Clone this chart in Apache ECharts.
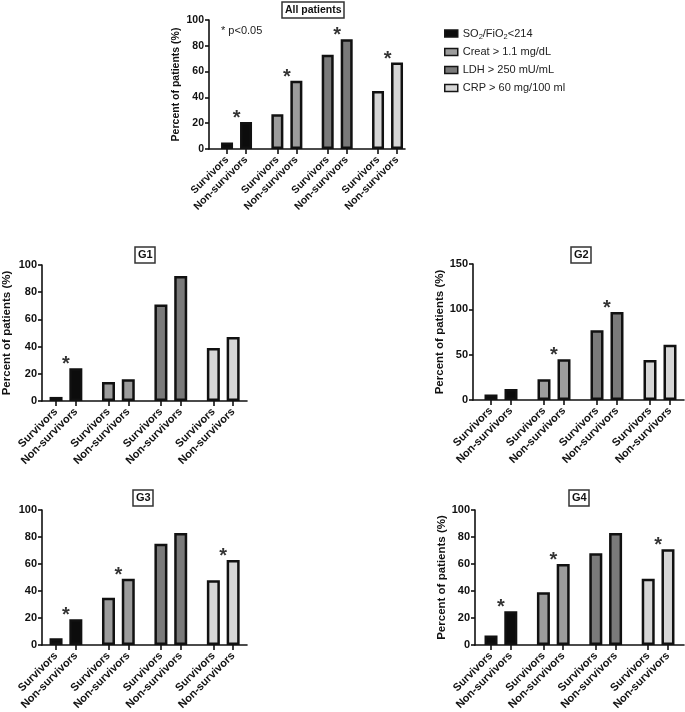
<!DOCTYPE html>
<html><head><meta charset="utf-8">
<script src="https://cdn.jsdelivr.net/npm/echarts@6/dist/echarts.min.js"></script>
<style>html,body{margin:0;padding:0;background:#fff}#c{width:685px;height:712px}</style>
</head><body><div id="c"></div>
<script>
// ---------------- data ----------------
const parameters = ['SO2/FiO2<214', 'Creat > 1.1 mg/dL', 'LDH > 250 mU/mL', 'CRP > 60 mg/100 ml'];
const outcomes = ['Survivors', 'Non-survivors'];
const panelTitles = ['All patients', 'G1', 'G2', 'G3', 'G4'];
const yAxisTitle = 'Percent of patients (%)';
const noteText = '* p<0.05';
const yMax = [100, 100, 150, 100, 100];
const yStep = [20, 20, 50, 20, 20];

const allSurvivors    = [5, 27, 73, 45];
const allNonSurvivors = [21, 53, 85, 67];
const allSignificant  = [1, 1, 1, 1];

const g1Survivors     = [3, 14, 71, 39];
const g1NonSurvivors  = [24, 16, 92, 47];
const g1Significant   = [1, 0, 0, 0];

const g2Survivors     = [6, 23, 77, 44];
const g2NonSurvivors  = [12, 45, 97, 61];
const g2Significant   = [0, 1, 1, 0];

const g3Survivors     = [5, 35, 75, 48];
const g3NonSurvivors  = [19, 49, 83, 63];
const g3Significant   = [1, 1, 0, 1];

const g4Survivors     = [7, 39, 68, 49];
const g4NonSurvivors  = [25, 60, 83, 71];
const g4Significant   = [1, 1, 0, 1];

const survivorsByPanel = [allSurvivors, g1Survivors, g2Survivors, g3Survivors, g4Survivors];
const nonSurvivorsByPanel = [allNonSurvivors, g1NonSurvivors, g2NonSurvivors, g3NonSurvivors, g4NonSurvivors];
const significantByPanel = [allSignificant, g1Significant, g2Significant, g3Significant, g4Significant];

// ---------------- layout / style ----------------
const fills = ['#0c0c0c', '#9c9c9c', '#7a7a7a', '#d6d6d6'];
const STEP = 2.65; // distance between parameter groups (in bar-pair units)
const layouts = [
  {left: 209, top: 20,  width: 196, height: 129, xmin: -0.95, xmax: 9.37, yName: true,  nameGap: 27, fs: 10.5, lfs: 10.5, nfs: 10.5, tl: 282, tt: 2, bw: 12},
  {left: 42,  top: 265, width: 205, height: 136, xmin: -0.71, xmax: 9.65, yName: true,  nameGap: 29, fs: 11, lfs: 11, nfs: 11.5, tl: 135, tt: 247, bw: 13},
  {left: 473, top: 264, width: 211, height: 136, xmin: -0.90, xmax: 9.65, yName: true,  nameGap: 25, fs: 11, lfs: 11, nfs: 11.5, tl: 571, tt: 247, bw: 13},
  {left: 42,  top: 510, width: 205, height: 135, xmin: -0.71, xmax: 9.65, yName: false, nameGap: 29, fs: 11, lfs: 11, nfs: 11.5, tl: 133, tt: 490, bw: 13},
  {left: 475, top: 510, width: 209, height: 135, xmin: -0.81, xmax: 9.76, yName: true,  nameGap: 27, fs: 11, lfs: 11, nfs: 11.5, tl: 569, tt: 490, bw: 13}
];
const FONT = 'Liberation Sans, Arial, sans-serif';

const tickPositions = [];
const tickNames = [];
parameters.forEach((p, g) => outcomes.forEach((o, i) => { tickPositions.push(g * STEP + i); tickNames.push(o); }));
function nameAt(v) {
  let best = 0, bd = Infinity;
  tickPositions.forEach((t, k) => { const d = Math.abs(t - v); if (d < bd) { bd = d; best = k; } });
  return tickNames[best];
}

const grid = [], xAxis = [], yAxis = [], series = [], title = [];
layouts.forEach((L, p) => {
  grid.push({left: L.left, top: L.top, width: L.width, height: L.height, containLabel: false, outerBoundsMode: 'none'});
  xAxis.push({
    type: 'value', gridIndex: p, position: 'bottom', min: L.xmin, max: L.xmax, splitLine: {show: false},
    axisLine: {show: true, onZero: false, lineStyle: {color: '#111', width: 1.6}},
    axisTick: {show: true, customValues: tickPositions, length: 5, lineStyle: {color: '#111', width: 1.6}},
    axisLabel: {show: true, inside: false, customValues: tickPositions, rotate: 45, margin: 9, color: '#111',
      fontFamily: FONT, fontWeight: 'bold', fontSize: L.lfs, formatter: v => nameAt(v), hideOverlap: false}
  });
  yAxis.push({
    type: 'value', gridIndex: p, position: 'left', min: 0, max: yMax[p], interval: yStep[p], splitLine: {show: false},
    name: L.yName ? yAxisTitle : '', nameLocation: 'middle', nameGap: L.nameGap,
    nameTextStyle: {fontFamily: FONT, fontWeight: 'bold', fontSize: L.nfs, color: '#111'},
    axisLine: {show: true, onZero: false, lineStyle: {color: '#111', width: 1.6}},
    axisTick: {show: true, inside: false, length: 4, lineStyle: {color: '#111', width: 1.6}},
    axisLabel: {show: true, inside: false, color: '#111', fontFamily: FONT, fontWeight: 'bold', fontSize: L.fs, margin: 5, hideOverlap: false}
  });
  title.push({
    text: panelTitles[p], left: L.tl, top: L.tt, padding: [2, 3, 2, 3],
    borderColor: '#333', borderWidth: 1.5,
    textStyle: {fontFamily: FONT, fontWeight: 'bold', fontSize: p === 0 ? 10.5 : 11, color: '#111', lineHeight: 12}
  });
  parameters.forEach((name, g) => {
    series.push({
      type: 'bar', name: name, xAxisIndex: p, yAxisIndex: p, barWidth: L.bw, barGap: '-100%',
      itemStyle: {color: fills[g], borderColor: '#111', borderWidth: 2.5},
      emphasis: {disabled: true},
      data: [[g * STEP, survivorsByPanel[p][g]], [g * STEP + 1, nonSurvivorsByPanel[p][g]]]
    });
  });
  const stars = [];
  parameters.forEach((name, g) => {
    if (significantByPanel[p][g]) stars.push([g * STEP + 0.5, nonSurvivorsByPanel[p][g]]);
  });
  series.push({
    type: 'scatter', name: 'sig', xAxisIndex: p, yAxisIndex: p, symbolSize: 1,
    itemStyle: {color: 'rgba(0,0,0,0)'}, silent: true,
    label: {show: true, formatter: '*', position: 'top', distance: 0, offset: [0, 7],
      fontFamily: FONT, fontSize: 20, fontWeight: 'bold', color: '#000'},
    data: stars
  });
});

const chart = echarts.init(document.getElementById('c'), null, {renderer: 'canvas'});
chart.setOption({
  animation: false,
  backgroundColor: '#fff',
  title: title,
  grid: grid, xAxis: xAxis, yAxis: yAxis, series: series,
  legend: {
    data: parameters, orient: 'vertical', left: 439, top: 22, itemWidth: 13, itemHeight: 7, itemGap: 5,
    selectedMode: false, icon: 'rect',
    itemStyle: {borderColor: '#151515', borderWidth: 1.5},
    textStyle: {fontFamily: FONT, fontSize: 11, color: '#222', lineHeight: 13,
      rich: {n: {fontFamily: FONT, fontSize: 11, color: '#222'}, s: {fontFamily: FONT, fontSize: 7.5, color: '#222', padding: [6, 0, 0, 0]}}},
    formatter: n => n === parameters[0] ? '{n|SO}{s|2}{n|/FiO}{s|2}{n|<214}' : n
  },
  graphic: [{type: 'text', left: 221, top: 25, style: {text: noteText, fontFamily: FONT, fontSize: 11, fill: '#222'}}]
});
</script></body></html>
